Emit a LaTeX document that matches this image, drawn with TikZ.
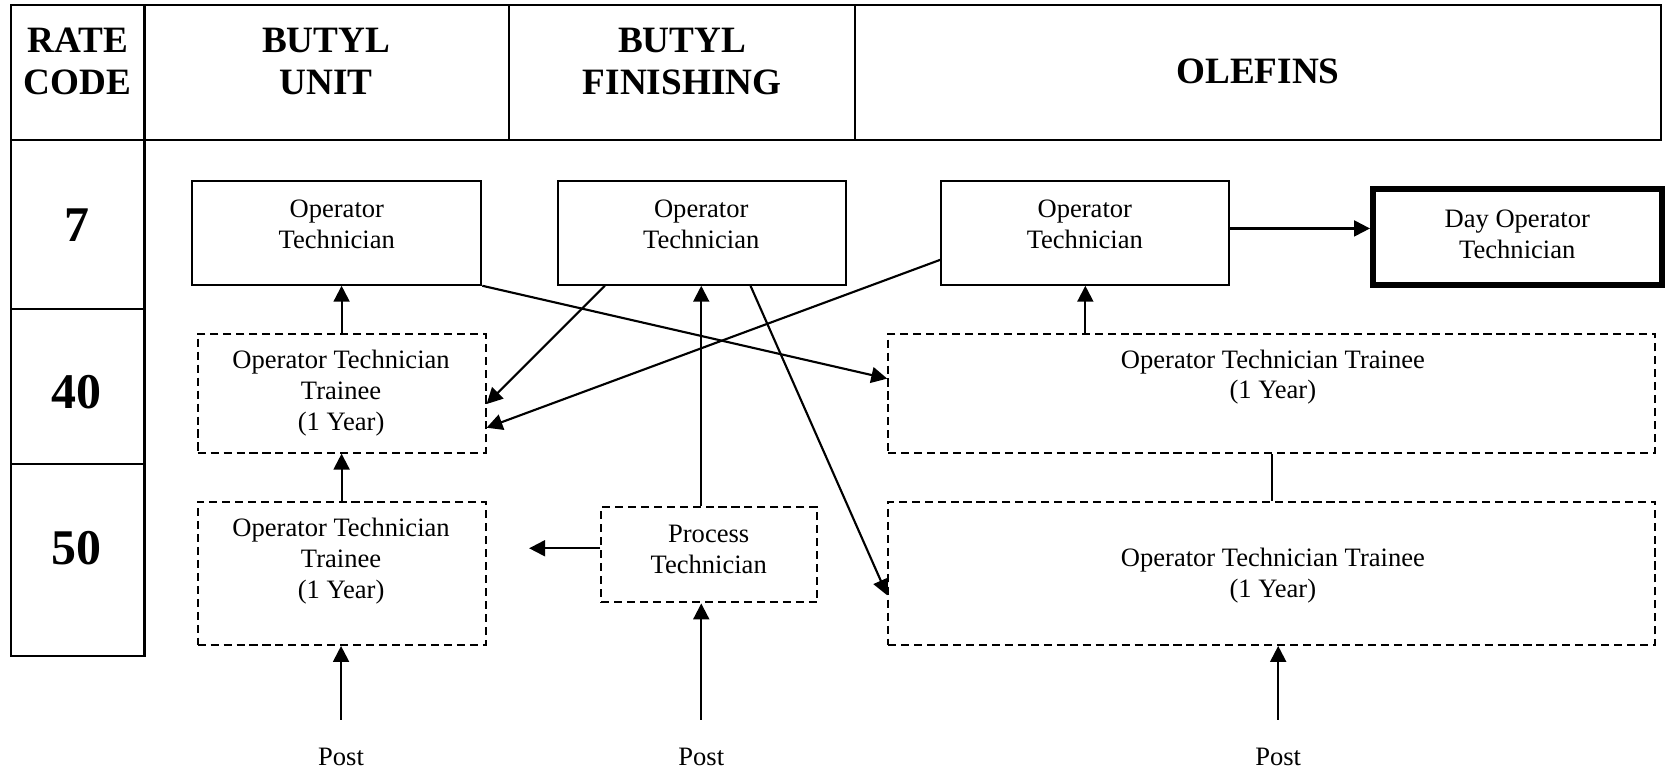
\documentclass[tikz,border=0pt]{standalone}
\usepackage{fontspec}
\setmainfont{Liberation Serif}
\usetikzlibrary{arrows.meta,calc}
\begin{document}
\begin{tikzpicture}[x=0.5pt,y=-0.5pt,
  solidbox/.style={draw,line width=0.95pt,inner sep=0pt},
  thickbox/.style={draw,line width=2.6pt,inner sep=0pt},
  dashbox/.style={draw,line width=0.95pt,dash pattern=on 3.8pt off 2.3pt,inner sep=0pt},
  txt/.style={align=center,font=\fontsize{12.5}{14.5}\selectfont},
  head/.style={align=center,font=\fontsize{17.5}{20}\selectfont\bfseries},
  rate/.style={align=center,font=\fontsize{23.5}{27}\selectfont\bfseries},
  arr/.style={line width=1pt,-{Triangle[length=7.5pt,width=7.5pt]}},
  conn/.style={line width=1pt},
  tbl/.style={line width=0.95pt}]
\useasboundingbox (0,0) rectangle (1568,725);
% table
\draw[tbl] (10,5) rectangle (1563,132);
\draw[tbl] (136,5) -- (136,132) (479,5) -- (479,132) (805,5) -- (805,132);
\draw[tbl] (10,132) rectangle (136,617);
\draw[tbl] (10,291) -- (136,291) (10,437) -- (136,437);
\node[head] (hrate) at (73,58) {RATE\\CODE};
\node[head] (hbu) at (307,58) {BUTYL\\UNIT};
\node[head] (hbf) at (642,58) {BUTYL\\FINISHING};
\node[head] (hol) at (1184,67) {OLEFINS};
\node[rate] (r7) at (72,212) {7};
\node[rate] (r40) at (72,369) {40};
\node[rate] (r50) at (72,516) {50};
% boxes
\node[solidbox,minimum width=136pt,minimum height=49pt] (buot) at (317,219) {};
\node[solidbox,minimum width=135.5pt,minimum height=49pt] (bfot) at (660.5,219) {};
\node[solidbox,minimum width=135.5pt,minimum height=49pt] (olot) at (1021.5,219) {};
\node[thickbox,minimum width=136pt,minimum height=45pt] (day) at (1428,223) {};
\node[dashbox,minimum width=135.5pt,minimum height=56pt] (bu40) at (321.5,370) {};
\node[dashbox,minimum width=361pt,minimum height=56pt] (ol40) at (1197,370) {};
\node[dashbox,minimum width=135.5pt,minimum height=67.5pt] (bu50) at (321.5,539.5) {};
\node[dashbox,minimum width=101.5pt,minimum height=45pt] (pt) at (667.5,522) {};
\node[dashbox,minimum width=361pt,minimum height=67.5pt] (ol50) at (1197,539.5) {};
% texts
\node[txt] (tbuot) at (317,211) {Operator\\Technician};
\node[txt] (tbfot) at (660,211) {Operator\\Technician};
\node[txt] (tolot) at (1021,211) {Operator\\Technician};
\node[txt] (tday) at (1428,220.5) {Day Operator\\Technician};
\node[txt] (tbu40) at (321,370) {Operator Technician\\Trainee\\(1 Year)};
\node[txt] (tol40) at (1198,355) {Operator Technician Trainee\\(1 Year)};
\node[txt] (tbu50) at (321,528) {Operator Technician\\Trainee\\(1 Year)};
\node[txt] (tpt) at (667,517) {Process\\Technician};
\node[txt] (tol50) at (1198,542) {Operator Technician Trainee\\(1 Year)};
\node[txt,inner sep=0pt] (post1) at (321,712) {Post};
\node[txt,inner sep=0pt] (post2) at (660,712) {Post};
\node[txt,inner sep=0pt] (post3) at (1203,712) {Post};
\coordinate (ptl) at (498,516);
% connectors
\draw[arr] (bu40.north) -- (bu40.north |- buot.south);
\draw[arr] (bu50.north) -- (bu40.south);
\draw[arr,shorten <=13pt] (post1.north) -- (post1.north |- bu50.south);
\draw[arr,shorten <=13pt] (post2.north) -- (post2.north |- pt.south);
\draw[arr] (post2 |- pt.north) -- (post2 |- bfot.south);
\draw[arr] (pt.west |- ptl) -- (ptl);
\draw[arr] (olot.south |- ol40.north) -- (olot.south);
\draw[conn] (ol50.north) -- (ol40.south);
\draw[arr,shorten <=13pt] (post3.north) -- (post3.north |- ol50.south);
\draw[arr] ([yshift=2pt]olot.east) -- ([yshift=2pt]olot.east -| day.west);
\draw[arr] (buot.south east) -- ($(ol40.north west)!0.38!(ol40.south west)$);
\draw[arr] ($(bfot.south west)!0.166!(bfot.south east)$) -- ($(bu40.north east)!0.59!(bu40.south east)$);
\draw[arr] ($(olot.north west)!0.755!(olot.south west)$) -- ($(bu40.north east)!0.786!(bu40.south east)$);
\draw[arr] ($(bfot.south west)!0.668!(bfot.south east)$) -- ($(ol50.north west)!0.652!(ol50.south west)$);
\end{tikzpicture}
\end{document}
